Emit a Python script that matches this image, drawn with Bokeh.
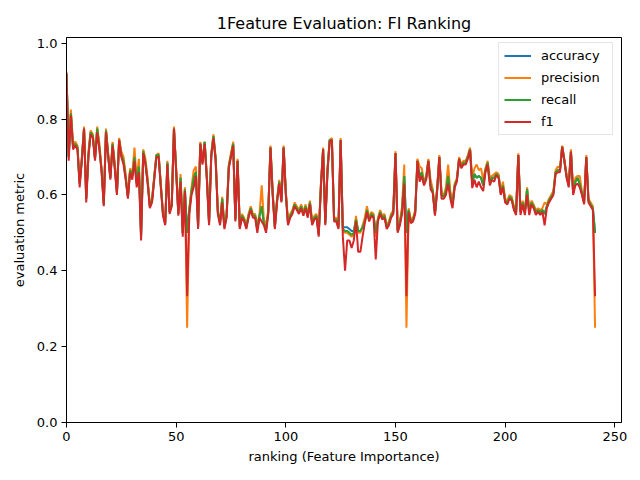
from bokeh.plotting import figure
from bokeh.models import ColumnDataSource, FixedTicker, PrintfTickFormatter, Legend, LegendItem, Range1d
from bokeh.embed import file_html
from bokeh.resources import INLINE

# Evaluation metrics for models trained on the top-k features, ordered by feature importance rank
f1 = [
    0.92, 0.69, 0.81, 0.72, 0.73, 0.72, 0.62, 0.69, 0.775, 0.58,
    0.70, 0.76, 0.75, 0.69, 0.765, 0.72, 0.66, 0.57, 0.765, 0.70,
    0.64, 0.73, 0.67, 0.60, 0.745, 0.70, 0.68, 0.64, 0.59, 0.66,
    0.64, 0.69, 0.62, 0.66, 0.48, 0.71, 0.68, 0.63, 0.565, 0.58,
    0.64, 0.70, 0.70, 0.62, 0.545, 0.52, 0.68, 0.55, 0.57, 0.775,
    0.66, 0.545, 0.635, 0.49, 0.61, 0.333, 0.55, 0.60, 0.62, 0.65,
    0.51, 0.735, 0.68, 0.735, 0.64, 0.52, 0.70, 0.75, 0.69, 0.55,
    0.52, 0.58, 0.51, 0.54, 0.67, 0.70, 0.73, 0.53, 0.69, 0.51,
    0.54, 0.53, 0.51, 0.54, 0.56, 0.54, 0.54, 0.50, 0.54, 0.53,
    0.52, 0.50, 0.55, 0.725, 0.60, 0.51, 0.58, 0.63, 0.58, 0.725,
    0.60, 0.52, 0.54, 0.55, 0.57, 0.56, 0.55, 0.565, 0.545, 0.565,
    0.54, 0.575, 0.52, 0.535, 0.54, 0.49, 0.62, 0.72, 0.52, 0.66,
    0.74, 0.745, 0.53, 0.53, 0.51, 0.745, 0.49, 0.40, 0.48, 0.48,
    0.46, 0.48, 0.53, 0.45, 0.45, 0.49, 0.525, 0.555, 0.53, 0.545,
    0.54, 0.43, 0.53, 0.55, 0.535, 0.54, 0.51, 0.52, 0.54, 0.55,
    0.71, 0.50, 0.52, 0.55, 0.63, 0.333, 0.555, 0.525, 0.53, 0.55,
    0.69, 0.635, 0.65, 0.625, 0.64, 0.69, 0.615, 0.605, 0.545, 0.61,
    0.70, 0.59, 0.59, 0.60, 0.63, 0.59, 0.565, 0.62, 0.635, 0.695,
    0.67, 0.68, 0.68, 0.695, 0.718, 0.618, 0.64, 0.62, 0.635, 0.62,
    0.61, 0.66, 0.68, 0.625, 0.64, 0.635, 0.652, 0.645, 0.60, 0.62,
    0.58, 0.575, 0.59, 0.585, 0.56, 0.547, 0.705, 0.547, 0.575, 0.547,
    0.60, 0.547, 0.575, 0.565, 0.547, 0.556, 0.547, 0.555, 0.52, 0.565,
    0.58, 0.59, 0.60, 0.655, 0.66, 0.66, 0.727, 0.69, 0.645, 0.62,
    0.714, 0.60, 0.625, 0.63, 0.62, 0.60, 0.575, 0.70, 0.58, 0.57,
    0.56, 0.333,
]

recall = [
    0.92, 0.70, 0.815, 0.725, 0.735, 0.725, 0.63, 0.695, 0.775, 0.59,
    0.705, 0.765, 0.755, 0.695, 0.775, 0.725, 0.665, 0.575, 0.77, 0.705,
    0.645, 0.735, 0.675, 0.605, 0.745, 0.705, 0.69, 0.645, 0.595, 0.665,
    0.65, 0.70, 0.63, 0.675, 0.49, 0.715, 0.685, 0.635, 0.57, 0.585,
    0.645, 0.705, 0.705, 0.625, 0.55, 0.525, 0.685, 0.555, 0.575, 0.775,
    0.665, 0.55, 0.645, 0.50, 0.615, 0.50, 0.56, 0.61, 0.645, 0.66,
    0.515, 0.735, 0.685, 0.74, 0.645, 0.525, 0.705, 0.755, 0.695, 0.555,
    0.525, 0.59, 0.515, 0.545, 0.675, 0.705, 0.735, 0.535, 0.69, 0.515,
    0.545, 0.535, 0.515, 0.545, 0.565, 0.545, 0.545, 0.51, 0.545, 0.57,
    0.525, 0.51, 0.555, 0.725, 0.605, 0.515, 0.585, 0.635, 0.585, 0.725,
    0.605, 0.525, 0.545, 0.555, 0.575, 0.565, 0.555, 0.57, 0.55, 0.57,
    0.545, 0.58, 0.525, 0.54, 0.545, 0.495, 0.625, 0.72, 0.525, 0.665,
    0.745, 0.745, 0.535, 0.535, 0.515, 0.745, 0.51, 0.505, 0.505, 0.50,
    0.495, 0.50, 0.535, 0.505, 0.505, 0.515, 0.53, 0.56, 0.535, 0.55,
    0.545, 0.50, 0.535, 0.555, 0.54, 0.545, 0.515, 0.525, 0.545, 0.555,
    0.71, 0.505, 0.525, 0.56, 0.65, 0.50, 0.56, 0.53, 0.535, 0.555,
    0.69, 0.645, 0.66, 0.63, 0.645, 0.69, 0.625, 0.61, 0.55, 0.615,
    0.70, 0.60, 0.595, 0.61, 0.65, 0.60, 0.575, 0.625, 0.64, 0.695,
    0.675, 0.685, 0.685, 0.70, 0.72, 0.63, 0.655, 0.645, 0.65, 0.645,
    0.625, 0.665, 0.685, 0.635, 0.645, 0.645, 0.655, 0.65, 0.605, 0.625,
    0.585, 0.58, 0.595, 0.59, 0.565, 0.555, 0.705, 0.555, 0.58, 0.555,
    0.615, 0.555, 0.58, 0.57, 0.555, 0.56, 0.555, 0.56, 0.55, 0.57,
    0.585, 0.595, 0.605, 0.66, 0.665, 0.665, 0.727, 0.69, 0.65, 0.625,
    0.714, 0.605, 0.635, 0.645, 0.63, 0.605, 0.58, 0.70, 0.585, 0.575,
    0.565, 0.50,
]

accuracy = [
    0.92, 0.70, 0.815, 0.725, 0.735, 0.725, 0.63, 0.695, 0.775, 0.59,
    0.705, 0.765, 0.755, 0.695, 0.775, 0.725, 0.665, 0.575, 0.77, 0.705,
    0.645, 0.735, 0.675, 0.605, 0.745, 0.705, 0.69, 0.645, 0.595, 0.665,
    0.65, 0.70, 0.63, 0.675, 0.49, 0.715, 0.685, 0.635, 0.57, 0.585,
    0.645, 0.705, 0.705, 0.625, 0.55, 0.525, 0.685, 0.555, 0.575, 0.775,
    0.665, 0.55, 0.645, 0.50, 0.615, 0.50, 0.56, 0.61, 0.645, 0.66,
    0.515, 0.735, 0.685, 0.74, 0.645, 0.525, 0.705, 0.755, 0.695, 0.555,
    0.525, 0.59, 0.515, 0.545, 0.675, 0.705, 0.735, 0.535, 0.69, 0.515,
    0.545, 0.535, 0.515, 0.545, 0.565, 0.545, 0.545, 0.51, 0.545, 0.57,
    0.525, 0.51, 0.555, 0.725, 0.605, 0.515, 0.585, 0.635, 0.585, 0.725,
    0.605, 0.525, 0.545, 0.555, 0.575, 0.565, 0.555, 0.57, 0.55, 0.57,
    0.545, 0.58, 0.525, 0.54, 0.545, 0.495, 0.625, 0.72, 0.525, 0.665,
    0.745, 0.745, 0.535, 0.535, 0.515, 0.745, 0.515, 0.515, 0.515, 0.51,
    0.505, 0.505, 0.535, 0.505, 0.505, 0.515, 0.53, 0.56, 0.535, 0.55,
    0.545, 0.50, 0.535, 0.555, 0.54, 0.545, 0.515, 0.525, 0.545, 0.555,
    0.71, 0.505, 0.525, 0.56, 0.65, 0.50, 0.56, 0.53, 0.535, 0.555,
    0.69, 0.645, 0.66, 0.63, 0.645, 0.69, 0.625, 0.61, 0.55, 0.615,
    0.70, 0.60, 0.595, 0.61, 0.65, 0.60, 0.575, 0.625, 0.64, 0.695,
    0.675, 0.685, 0.685, 0.70, 0.72, 0.63, 0.655, 0.645, 0.65, 0.645,
    0.625, 0.665, 0.685, 0.635, 0.645, 0.645, 0.655, 0.65, 0.605, 0.625,
    0.585, 0.58, 0.595, 0.59, 0.565, 0.555, 0.705, 0.555, 0.58, 0.555,
    0.615, 0.555, 0.58, 0.57, 0.555, 0.56, 0.555, 0.56, 0.55, 0.57,
    0.585, 0.595, 0.605, 0.66, 0.665, 0.665, 0.727, 0.69, 0.65, 0.625,
    0.714, 0.605, 0.635, 0.645, 0.63, 0.605, 0.58, 0.70, 0.585, 0.575,
    0.565, 0.50,
]

precision = [
    0.925, 0.705, 0.825, 0.735, 0.74, 0.73, 0.635, 0.70, 0.78, 0.595,
    0.715, 0.77, 0.76, 0.70, 0.78, 0.735, 0.67, 0.58, 0.775, 0.71,
    0.65, 0.74, 0.685, 0.61, 0.75, 0.715, 0.70, 0.655, 0.60, 0.67,
    0.655, 0.725, 0.64, 0.695, 0.50, 0.72, 0.695, 0.645, 0.575, 0.59,
    0.65, 0.705, 0.71, 0.63, 0.555, 0.53, 0.69, 0.56, 0.58, 0.78,
    0.67, 0.555, 0.655, 0.51, 0.62, 0.25, 0.565, 0.62, 0.665, 0.675,
    0.52, 0.74, 0.69, 0.74, 0.65, 0.53, 0.71, 0.76, 0.70, 0.56,
    0.53, 0.595, 0.52, 0.55, 0.68, 0.71, 0.74, 0.54, 0.695, 0.52,
    0.55, 0.54, 0.52, 0.55, 0.57, 0.55, 0.55, 0.52, 0.55, 0.625,
    0.535, 0.52, 0.56, 0.73, 0.61, 0.52, 0.59, 0.64, 0.59, 0.73,
    0.61, 0.53, 0.55, 0.56, 0.58, 0.57, 0.56, 0.575, 0.555, 0.575,
    0.55, 0.585, 0.53, 0.545, 0.55, 0.50, 0.63, 0.725, 0.53, 0.67,
    0.745, 0.75, 0.54, 0.54, 0.52, 0.75, 0.505, 0.50, 0.50, 0.495,
    0.49, 0.495, 0.545, 0.50, 0.50, 0.52, 0.54, 0.57, 0.54, 0.555,
    0.55, 0.49, 0.54, 0.56, 0.545, 0.55, 0.52, 0.53, 0.55, 0.56,
    0.715, 0.51, 0.53, 0.57, 0.68, 0.25, 0.565, 0.535, 0.54, 0.56,
    0.695, 0.675, 0.67, 0.635, 0.65, 0.695, 0.64, 0.615, 0.555, 0.62,
    0.705, 0.605, 0.60, 0.62, 0.68, 0.61, 0.585, 0.63, 0.645, 0.70,
    0.68, 0.69, 0.69, 0.705, 0.725, 0.64, 0.67, 0.68, 0.665, 0.67,
    0.64, 0.67, 0.69, 0.645, 0.65, 0.655, 0.66, 0.655, 0.61, 0.635,
    0.59, 0.585, 0.60, 0.595, 0.57, 0.56, 0.71, 0.56, 0.585, 0.56,
    0.62, 0.56, 0.585, 0.575, 0.56, 0.565, 0.56, 0.565, 0.58, 0.575,
    0.59, 0.60, 0.61, 0.665, 0.675, 0.67, 0.73, 0.695, 0.655, 0.63,
    0.72, 0.61, 0.645, 0.65, 0.65, 0.61, 0.585, 0.705, 0.59, 0.58,
    0.57, 0.25,
]

ranking = list(range(len(f1)))

x_ticks = [0, 50, 100, 150, 200, 250]
y_ticks = [0.0, 0.2, 0.4, 0.6, 0.8, 1.0]

series = [
    ("accuracy", accuracy, "#1f77b4"),
    ("precision", precision, "#ff7f0e"),
    ("recall", recall, "#2ca02c"),
    ("f1", f1, "#d62728"),
]

FONT = "DejaVu Sans"

p = figure(
    frame_width=555, frame_height=385,
    min_border_left=66, min_border_right=19,
    min_border_top=37, min_border_bottom=58,
    x_range=Range1d(0, 253.05), y_range=Range1d(0, 1.015),
    output_backend="svg", toolbar_location=None,
    title="1Feature Evaluation: FI Ranking",
)

p.title.align = "center"
p.title.text_font = FONT
p.title.text_font_size = "16px"
p.title.text_font_style = "normal"
p.title.text_color = "black"
p.title.standoff = 10

p.background_fill_color = "white"
p.border_fill_color = "white"
p.outline_line_color = "black"
p.outline_line_width = 1
p.xgrid.visible = False
p.ygrid.visible = False

for ax in (p.xaxis[0], p.yaxis[0]):
    ax.major_tick_in = 0
    ax.major_tick_out = 5
    ax.minor_tick_line_color = None
    ax.major_label_standoff = 4
    ax.major_label_text_font = FONT
    ax.major_label_text_font_size = "13px"
    ax.major_label_text_color = "black"
    ax.axis_label_text_font = FONT
    ax.axis_label_text_font_size = "13px"
    ax.axis_label_text_font_style = "normal"
    ax.axis_label_text_color = "black"
    ax.axis_line_color = "black"
    ax.major_tick_line_color = "black"

p.xaxis.ticker = FixedTicker(ticks=x_ticks)
p.yaxis.ticker = FixedTicker(ticks=y_ticks)
p.yaxis.formatter = PrintfTickFormatter(format="%.1f")
p.xaxis.axis_label = "ranking (Feature Importance)"
p.yaxis.axis_label = "evaluation metric"
p.xaxis.axis_label_standoff = 5
p.yaxis.axis_label_standoff = 7

items = []
for name, vals, color in series:
    src = ColumnDataSource(data=dict(x=ranking, y=vals))
    r = p.line("x", "y", source=src, line_color=color, line_width=2)
    items.append(LegendItem(label=name, renderers=[r]))

legend = Legend(
    items=items, location=(432, 287),
    label_text_font=FONT, label_text_font_size="13px",
    label_text_color="black",
    border_line_color="#cccccc", border_line_width=1,
    background_fill_alpha=0.8,
    glyph_width=27, glyph_height=15, label_height=15, label_width=66,
    label_standoff=10, spacing=7, padding=5, margin=0,
)
p.add_layout(legend)

open("out.html", "w").write(file_html(p, INLINE))
